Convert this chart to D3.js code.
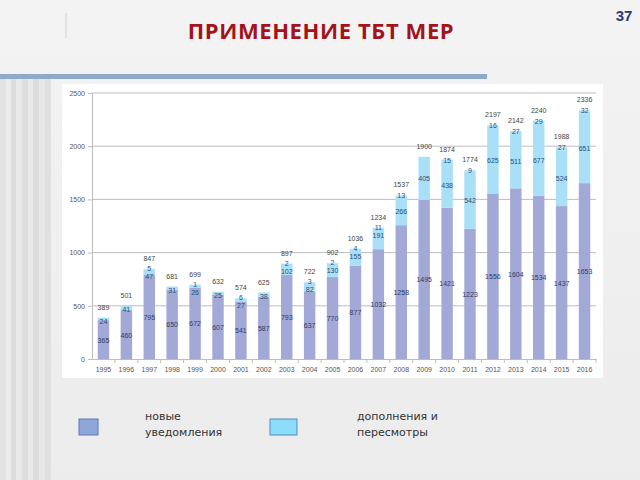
<!DOCTYPE html>
<html><head><meta charset="utf-8">
<script src="https://cdn.jsdelivr.net/npm/d3@7"></script>
<style>body{margin:0;padding:0;overflow:hidden}svg{display:block}</style>
</head><body>
<script>
const years = ["1995","1996","1997","1998","1999","2000","2001","2002","2003","2004","2005","2006","2007","2008","2009","2010","2011","2012","2013","2014","2015","2016"];
const newNotif = [365,460,795,650,672,607,541,587,793,637,770,877,1032,1258,1495,1421,1223,1556,1604,1534,1437,1653];
const addenda = [24,41,47,31,26,25,27,38,102,82,130,155,191,266,405,438,542,625,511,677,524,651];
const corrig = [0,0,5,0,1,0,6,0,2,3,2,4,11,13,0,15,9,16,27,29,27,32];
const totals = [389,501,847,681,699,632,574,625,897,722,902,1036,1234,1537,1900,1874,1774,2197,2142,2240,1988,2336];
const yTicks = [0,500,1000,1500,2000,2500];
const legendLabels = [["новые","уведомления"],["дополнения и","пересмотры"]];

const W=640,H=480;
const svg=d3.select("body").append("svg").attr("width",W).attr("height",H);
const defs=svg.append("defs");
const bg=defs.append("linearGradient").attr("id","bg").attr("x1",0).attr("y1",0).attr("x2",0).attr("y2",1);
bg.append("stop").attr("offset","0").attr("stop-color","#f3f3f3");
bg.append("stop").attr("offset","1").attr("stop-color","#ececec");
svg.append("rect").attr("width",W).attr("height",H).attr("fill","url(#bg)");

// left decorative stripes
const stripes=[[0,6,"#e2e2e2"],[6,5,"#ececec"],[11,5,"#dcdcdc"],[16,6,"#e9e9e9"],[22,6,"#dedede"],[28,5,"#eaeaea"],[33,6,"#dcdcdc"],[39,6,"#e8e8e8"],[45,6,"#e0e0e0"]];
stripes.forEach(s=>svg.append("rect").attr("x",s[0]).attr("y",79).attr("width",s[1]).attr("height",H-79).attr("fill",s[2]));

// blue bar
svg.append("rect").attr("x",0).attr("y",74).attr("width",487).attr("height",5).attr("fill","#8eaacb");
// thin vertical line
svg.append("line").attr("x1",66).attr("x2",66).attr("y1",13).attr("y2",38).attr("stroke","#cfcfcf").attr("stroke-width",1);

svg.append("text").attr("x",321).attr("y",39).attr("text-anchor","middle")
  .attr("font-family","'Open Sans', 'DejaVu Sans', sans-serif").attr("font-weight","bold").attr("font-size",22)
  .attr("fill","#a3141a").attr("letter-spacing","0.6").text("ПРИМЕНЕНИЕ ТБТ МЕР");
svg.append("text").attr("x",624).attr("y",21).attr("text-anchor","middle")
  .attr("font-family","'Liberation Sans', Arial, sans-serif").attr("font-weight","bold").attr("font-size",15)
  .attr("fill","#2b3d6b").text("37");

// chart box
svg.append("rect").attr("x",62).attr("y",84).attr("width",541).attr("height",294).attr("fill","#ffffff");

const x=d3.scaleBand().domain(years).range([92,596]).paddingInner(0.5).paddingOuter(0.25);
const y=d3.scaleLinear().domain([0,2500]).range([359,93]);

const g=svg.append("g");
// gridlines
g.selectAll("line.grid").data(yTicks.filter(d=>d>0)).enter().append("line")
  .attr("x1",92).attr("x2",596).attr("y1",d=>y(d)).attr("y2",d=>y(d))
  .attr("stroke","#bdbdbd").attr("stroke-width",1);

const yAxis=g.append("g").attr("transform","translate(92,0)")
  .call(d3.axisLeft(y).tickValues(yTicks).tickSize(4).tickFormat(d3.format("d")));
yAxis.select(".domain").attr("stroke","#bdbdbd");
yAxis.selectAll(".tick line").attr("stroke","#bdbdbd");
yAxis.selectAll("text").attr("font-family","'Liberation Sans', Arial, sans-serif").attr("font-size",7).attr("fill","#555");

const xAxis=g.append("g").attr("transform","translate(0,359)")
  .call(d3.axisBottom(x).tickSize(4).tickSizeOuter(0));
xAxis.select(".domain").attr("stroke","#bdbdbd");
xAxis.selectAll(".tick line").attr("stroke","#bdbdbd").attr("transform",`translate(${x.step()/2},0)`);
xAxis.selectAll("text").attr("font-family","'Liberation Sans', Arial, sans-serif").attr("font-size",7).attr("fill","#555").attr("dy","0.9em");

const data=years.map((yr,i)=>({year:yr,a:newNotif[i],b:addenda[i],c:corrig[i],t:totals[i]}));
const bw=x.bandwidth();
// bottom segment
g.selectAll("rect.a").data(data).enter().append("rect")
  .attr("x",d=>x(d.year)).attr("width",bw).attr("y",d=>y(d.a)).attr("height",d=>y(0)-y(d.a)).attr("fill","#a3a9d6");
g.selectAll("rect.b").data(data).enter().append("rect")
  .attr("x",d=>x(d.year)).attr("width",bw).attr("y",d=>y(d.a+d.b)).attr("height",d=>y(d.a)-y(d.a+d.b)).attr("fill","#a9e0f7");
g.selectAll("rect.c").data(data).enter().append("rect")
  .attr("x",d=>x(d.year)).attr("width",bw).attr("y",d=>y(d.t)).attr("height",d=>Math.max(0,y(d.a+d.b)-y(d.t))).attr("fill","#a9e0f7");

const fnt="'Liberation Sans', Arial, sans-serif";
// labels
g.selectAll("text.la").data(data).enter().append("text")
  .attr("x",d=>x(d.year)+bw/2).attr("y",d=>y(d.a/2)+3).attr("text-anchor","middle")
  .attr("font-family",fnt).attr("font-size",7).attr("fill","#2f3a66").text(d=>d.a);
g.selectAll("text.lb").data(data).enter().append("text")
  .attr("x",d=>x(d.year)+bw/2)
  .attr("y",d=>d.b>200? y(d.a+d.b/2)+3 : (d.c>0? y(d.t)+10 : y(d.a+d.b)+6)).attr("text-anchor","middle")
  .attr("font-family",fnt).attr("font-size",7).attr("fill","#1f4f7a").text(d=>d.b);
g.selectAll("text.lc").data(data.filter(d=>d.c>0)).enter().append("text")
  .attr("x",d=>x(d.year)+bw/2).attr("y",d=>y(d.t)+(d.b>200?3:2)).attr("text-anchor","middle")
  .attr("font-family",fnt).attr("font-size",7).attr("fill","#1f4f7a").text(d=>d.c);
g.selectAll("text.lt").data(data).enter().append("text")
  .attr("x",d=>x(d.year)+bw/2).attr("y",d=>y(d.t)-8).attr("text-anchor","middle")
  .attr("font-family",fnt).attr("font-size",7).attr("fill","#444").text(d=>d.t);

// legend
const lg=svg.append("g");
const legendPos=[[79,145,"#8fa6da","#5b78b4"],[270,357,"#8edcfb","#4f8fbf"]];
legendPos.forEach((p,i)=>{
  lg.append("rect").attr("x",p[0]).attr("y",419).attr("width",i===0?19:27).attr("height",16).attr("fill",p[2]).attr("stroke",p[3]).attr("stroke-width",1);
  legendLabels[i].forEach((t,j)=>{
    lg.append("text").attr("x",p[1]).attr("y",420+j*16).attr("font-family","'DejaVu Sans', Verdana, sans-serif")
      .attr("font-size",11).attr("fill","#333").text(t);
  });
});
</script>
</body></html>
